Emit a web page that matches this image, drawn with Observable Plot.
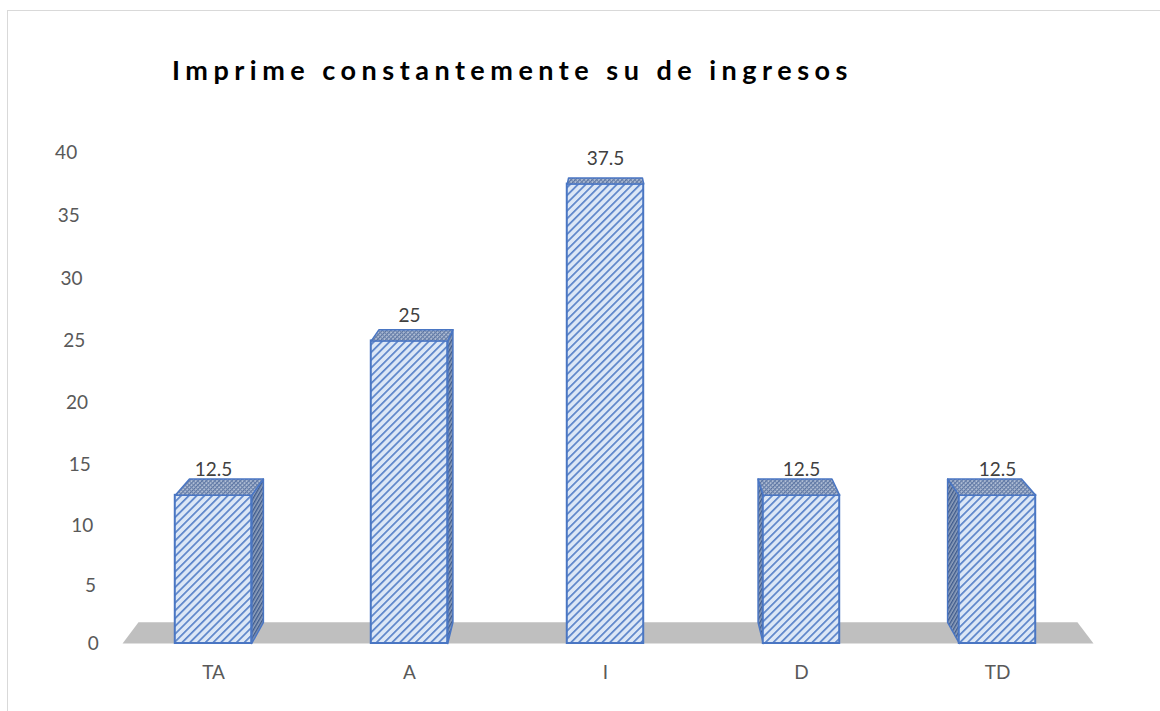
<!DOCTYPE html>
<html>
<head>
<meta charset="utf-8">
<script src="https://cdn.jsdelivr.net/npm/d3@7"></script>
<script src="https://cdn.jsdelivr.net/npm/@observablehq/plot@0.6"></script>
<style>
  body { margin: 0; background: #fff; }
  #wrap { position: relative; width: 1160px; height: 711px; overflow: hidden; font-family: Lato, "Open Sans", sans-serif; }
  #border { position: absolute; left: 7px; top: 10px; width: 1300px; height: 900px; border: 1px solid #d9d9d9; box-sizing: border-box; }
  #title { position: absolute; left: 172px; top: 56px; font-weight: bold; font-size: 27px; line-height: 27px; letter-spacing: 5.5px; color: #000; white-space: nowrap; }
  #chart { position: absolute; left: 0; top: 100px; }
</style>
</head>
<body>
<div id="wrap">
  <div id="border"></div>
  <div id="title">Imprime constantemente su de ingresos</div>
  <div id="chart"></div>
</div>
<script>
// ---- data ----
const categories = ["TA", "A", "I", "D", "TD"];
const values = [12.5, 25, 37.5, 12.5, 12.5];
const valueLabels = ["12.5", "25", "37.5", "12.5", "12.5"];
const yTicks = [0, 5, 10, 15, 20, 25, 30, 35, 40];
const yMax = 40;

// ---- layout ----
const W = 1160, H = 611;
const M = {top: 52, right: 65, bottom: 68, left: 115};
const yExp = 1.03;
const yTop = M.top, yBot = H - M.bottom;
const K = 0.033;          // perspective depth factor
const VX = 2;             // vanishing point x (in category index units)
const VY = -100;          // vanishing point y (svg px)
const HALF = 0.195;       // half bar width (index units)
const FLOOR = [-0.464, 4.49];

function ypx(t) { return yBot - (yBot - yTop) * Math.pow(t / yMax, yExp); }
function yinv(p) { return yMax * Math.pow(Math.max(0, (yBot - p) / (yBot - yTop)), 1 / yExp); }
function back([x, t]) {
  const p = ypx(t);
  const p2 = p + K * (VY - p);
  return [x + K * (VX - x), yinv(p2)];
}

const bars = categories.map((c, i) => ({c, i, v: values[i], label: valueLabels[i]}));

function poly(id, pts) {
  const closed = pts.concat([pts[0]]);
  return closed.map(([x, y]) => ({id, x, y}));
}

const floorRows = poly("floor", [[FLOOR[0], 0], [FLOOR[1], 0], back([FLOOR[1], 0]), back([FLOOR[0], 0])]);

const topRows = [], sideRows = [];
bars.forEach(b => {
  const L = b.i - HALF, R = b.i + HALF;
  topRows.push(...poly("top" + b.i, [[L, b.v], [R, b.v], back([R, b.v]), back([L, b.v])]));
  if (b.i < VX) {
    sideRows.push(...poly("side" + b.i, [[R, b.v], back([R, b.v]), back([R, 0]), [R, 0]]));
  } else if (b.i > VX) {
    sideRows.push(...poly("side" + b.i, [[L, b.v], back([L, b.v]), back([L, 0]), [L, 0]]));
  }
});

const blue = "#4a76c3";
const chart = Plot.plot({
  width: W, height: H,
  marginTop: M.top, marginRight: M.right, marginBottom: M.bottom, marginLeft: M.left,
  x: {domain: [-0.5, 4.5], axis: null},
  y: {type: "pow", exponent: yExp, domain: [0, yMax], axis: null},
  style: {fontFamily: "Lato, 'Open Sans', sans-serif", background: "transparent"},
  marks: [
    Plot.line(floorRows, {x: "x", y: "y", z: "id", fill: "#bfbfbf", stroke: "none"}),
    Plot.line(sideRows, {x: "x", y: "y", z: "id", fill: "url(#hSide)", stroke: blue, strokeWidth: 1.5, strokeLinejoin: "round"}),
    Plot.rect(bars, {x1: d => d.i - HALF, x2: d => d.i + HALF, y1: 0, y2: "v", fill: "url(#hFront)", stroke: blue, strokeWidth: 2, inset: 0}),
    Plot.line(topRows, {x: "x", y: "y", z: "id", fill: "url(#hTop)", stroke: blue, strokeWidth: 1.5, strokeLinejoin: "round"}),
    Plot.text(bars, {x: "i", y: "v", text: "label", lineAnchor: "middle", dy: -25, fill: "#404040", fontSize: 19}),
    Plot.text(yTicks, {x: t => -0.5 - 0.0852 - 0.00276 * t, y: t => t, text: t => String(t), textAnchor: "end", fill: "#595959", fontSize: 19}),
    Plot.text(categories, {x: (d, i) => i, frameAnchor: "bottom", dy: 35, text: d => d, fill: "#595959", fontSize: 19})
  ]
});

// hatch patterns
const svg = d3.select(chart);
const defs = svg.insert("defs", ":first-child");
function stripes(id, size, w, bg, fg, angle) {
  const p = defs.append("pattern").attr("id", id).attr("width", size).attr("height", size)
    .attr("patternUnits", "userSpaceOnUse").attr("patternTransform", `rotate(${angle})`);
  p.append("rect").attr("width", size).attr("height", size).attr("fill", bg);
  p.append("rect").attr("width", w).attr("height", size).attr("fill", fg);
  return p;
}
stripes("hFront", 5.5, 1.7, "#dce7f6", "#5a83c9", 45);
const pt = stripes("hTop", 3, 1.2, "#b3c0d6", "#56709f", 45);
pt.append("rect").attr("width", 3).attr("height", 1).attr("fill", "#6d84ad");
stripes("hSide", 3, 1.4, "#90a1bd", "#3e5a8c", 30);

document.getElementById("chart").appendChild(chart);
</script>
</body>
</html>
